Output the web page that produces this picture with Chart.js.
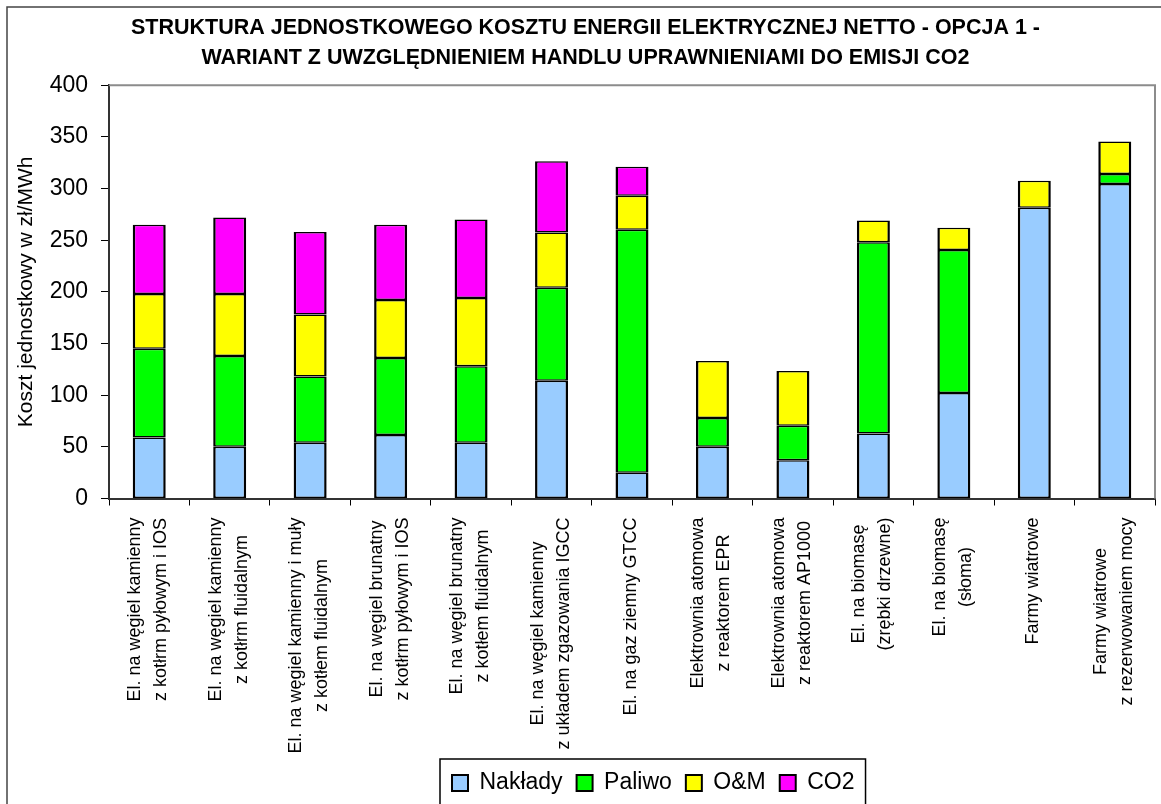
<!DOCTYPE html>
<html><head><meta charset="utf-8">
<script src="https://cdn.jsdelivr.net/npm/chart.js@4.4.1/dist/chart.umd.min.js"></script>
<style>html,body{margin:0;padding:0;background:#fff;}canvas{display:block;}</style>
</head><body>
<canvas id="c" width="1161" height="804" style="width:1161px;height:804px"></canvas>
<script>
// ---- data ----
const categories = [
  ["El. na węgiel kamienny", "z kotłrm pyłowym i IOS"],
  ["El. na węgiel kamienny", "z kotłrm fluidalnym"],
  ["El. na węgiel kamienny i muły", "z kotłem fluidalnym"],
  ["El. na węgiel brunatny", "z kotłrm pyłowym i IOS"],
  ["El. na węgiel brunatny", "z kotłem fluidalnym"],
  ["El. na węgiel kamienny", "z układem zgazowania IGCC"],
  ["El. na gaz ziemny GTCC"],
  ["Elektrownia atomowa", "z reaktorem EPR"],
  ["Elektrownia atomowa", "z reaktorem AP1000"],
  ["El. na biomasę", "(zrębki drzewne)"],
  ["El. na biomasę", "(słoma)"],
  ["Farmy wiatrowe"],
  ["Farmy wiatrowe", "z rezerwowaniem mocy"]
];
const naklady = [59, 50, 54, 61.5, 54, 114, 25, 50, 37, 63, 102, 281.5, 304.5];
const paliwo  = [86, 88, 64, 74.5, 74, 90, 235, 28, 33.5, 185, 138.5, null, 9.5];
const om      = [53, 60, 60, 56, 66, 53.5, 33, 55, 53, 21, 21.5, 26, 31.5];
const co2     = [67, 74, 80, 73, 76, 69, 28, null, null, null, null, null, null];
const seriesNames = ["Nakłady", "Paliwo", "O&M", "CO2"];
const yTickValues = [0, 50, 100, 150, 200, 250, 300, 350, 400];
const titleLines = ["STRUKTURA JEDNOSTKOWEGO KOSZTU ENERGII ELEKTRYCZNEJ NETTO - OPCJA 1 -",
                    "WARIANT Z UWZGLĘDNIENIEM HANDLU UPRAWNIENIAMI DO EMISJI CO2"];
const yAxisTitle = "Koszt jednostkowy w zł/MWh";

// ---- styling ----
const FONT = '"Liberation Sans", Arial, Helvetica, sans-serif';
const colors = ["#99CCFF", "#00FF00", "#FFFF00", "#FF00FF"];
const seriesData = [naklady, paliwo, om, co2];

const bgPlugin = {
  id: 'bg',
  beforeDraw(chart) {
    const c = chart.ctx; c.save(); c.fillStyle = '#fff';
    c.fillRect(0, 0, chart.width, chart.height); c.restore();
  }
};

const shiftPlugin = {
  id: 'shift',
  afterLayout(chart) {
    const L = chart.legend;
    if (L && L.lineWidths) {
      const pad = L.options.labels.padding;
      const rowStart = (L.left + pad + L.right - L.lineWidths[0]) / 2;
      const dx = 452 - rowStart;
      const dy = 783 - (L.top + pad + 11.5);
      L.left += dx; L.right += dx; L.top += dy; L.bottom += dy;
    }
    const T = chart.titleBlock;
    if (T) { T.left += 8; T.right += 8; }
  }
};

const decorPlugin = {
  id: 'decor',
  afterDraw(chart) {
    const ctx = chart.ctx, a = chart.chartArea;
    ctx.save();
    // plot area top/right border
    ctx.strokeStyle = '#8c8c8c'; ctx.lineWidth = 2;
    ctx.beginPath();
    ctx.moveTo(a.left, a.top); ctx.lineTo(a.right, a.top); ctx.lineTo(a.right, a.bottom);
    ctx.stroke();
    // outer frame
    ctx.strokeStyle = '#444'; ctx.lineWidth = 1.5;
    ctx.beginPath();
    ctx.moveTo(7, chart.height + 5); ctx.lineTo(7, 7); ctx.lineTo(chart.width + 5, 7);
    ctx.stroke();
    // legend frame
    const hb = chart.legend.legendHitBoxes;
    if (hb && hb.length) {
      const l = hb[0].left - 12, last = hb[hb.length - 1];
      const r = last.left + last.width + 11;
      const t = hb[0].top + hb[0].height / 2 - 24;
      ctx.strokeStyle = '#000'; ctx.lineWidth = 1.5;
      ctx.beginPath();
      ctx.moveTo(l, chart.height + 5); ctx.lineTo(l, t); ctx.lineTo(r, t); ctx.lineTo(r, chart.height + 5);
      ctx.stroke();
    }
    // category labels (rotated, lines centred on each other)
    const xs = chart.scales.x;
    ctx.font = '18px ' + FONT;
    ctx.fillStyle = '#000';
    ctx.textAlign = 'center'; ctx.textBaseline = 'middle';
    chart.data.labels.forEach((lab, i) => {
      const lines = Array.isArray(lab) ? lab : [lab];
      const W = Math.max(...lines.map(s => ctx.measureText(s).width));
      const x = xs.getPixelForValue(i) - 1;
      const y0 = a.bottom + 19;
      ctx.save();
      ctx.translate(x, y0);
      ctx.rotate(-Math.PI / 2);
      lines.forEach((s, j) => ctx.fillText(s, -W / 2, (j - (lines.length - 1) / 2) * 26));
      ctx.restore();
    });
    ctx.restore();
  }
};

new Chart(document.getElementById('c'), {
  type: 'bar',
  data: {
    labels: categories,
    datasets: seriesNames.map((name, k) => ({
      label: name,
      data: seriesData[k],
      backgroundColor: colors[k],
      borderColor: '#000',
      borderWidth: { top: 1.5, bottom: 1.5, left: 2.5, right: 2.5 },
      borderSkipped: false,
      categoryPercentage: 1,
      barPercentage: 0.41
    }))
  },
  options: {
    responsive: false,
    animation: false,
    layout: { padding: { top: 0, left: 0, right: 6, bottom: 0 } },
    plugins: {
      title: {
        display: true, text: titleLines, color: '#000',
        font: { family: FONT, size: 21.5, weight: 'bold', lineHeight: 1.4 },
        padding: { top: 13, bottom: 12 }
      },
      legend: {
        position: 'bottom',
        labels: {
          color: '#000', font: { family: FONT, size: 23 },
          boxWidth: 16, boxHeight: 16, padding: 14
        }
      },
      tooltip: { enabled: false }
    },
    scales: {
      x: {
        stacked: true,
        offset: true,
        grid: { display: true, offset: true, drawOnChartArea: false, drawTicks: true, tickLength: 7, color: '#000', lineWidth: 1 },
        border: { display: true, color: '#333', width: 2 },
        ticks: { display: false },
        afterFit(s) { s.height = 258.5; }
      },
      y: {
        stacked: true,
        min: 0, max: 400,
        afterBuildTicks(s) { s.ticks = yTickValues.map(v => ({ value: v })); },
        grid: { display: true, drawOnChartArea: false, drawTicks: true, tickLength: 8, color: '#000', lineWidth: 1 },
        border: { display: true, color: '#333', width: 2 },
        ticks: { color: '#000', font: { family: FONT, size: 23 }, padding: 13 },
        title: { display: true, text: yAxisTitle, color: '#000', font: { family: FONT, size: 21 }, padding: { top: 14, bottom: 0 } },
        afterFit(s) { s.width = 109; }
      }
    }
  },
  plugins: [bgPlugin, shiftPlugin, decorPlugin]
});
</script>
</body></html>
